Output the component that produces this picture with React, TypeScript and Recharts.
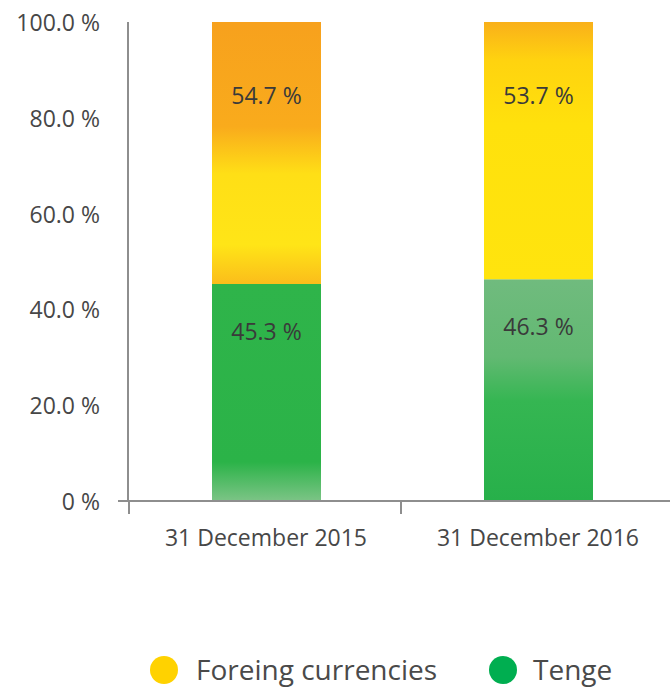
import { BarChart, Bar, XAxis, YAxis, Cell, LabelList } from "recharts";

const categories = ["31 December 2015", "31 December 2016"];
const tenge = [45.3, 46.3];
const foreign = [54.7, 53.7];
const yTicks = [0, 20, 40, 60, 80, 100];

const data = categories.map((date, i) => ({
  date,
  tenge: tenge[i],
  foreign: foreign[i],
}));

const FONT = "'Open Sans', sans-serif";
const AXIS = "#8e8e8e";
const TEXT = "#474747";

const fmt = (v: number) => (v === 0 ? "0 %" : `${v.toFixed(1)} %`);

function YTick(props: any) {
  const { x, y, payload } = props;
  return (
    <g>
      {payload.value === 0 && (
        <line x1={x + 18} x2={x + 28} y1={y} y2={y} stroke={AXIS} strokeWidth={2} />
      )}
      <text
        x={x}
        y={y}
        textAnchor="end"
        dominantBaseline="central"
        fontFamily={FONT}
        fontSize={23}
        fill={TEXT}
      >
        {fmt(payload.value)}
      </text>
    </g>
  );
}

function XTick(props: any) {
  const { x, y, payload, width, visibleTicksCount } = props;
  const half = width && visibleTicksCount ? width / visibleTicksCount / 2 : 137;
  return (
    <g>
      <line x1={x - half} x2={x - half} y1={y - 22} y2={y - 9} stroke={AXIS} strokeWidth={2} />
      <text
        x={x}
        y={y + 14}
        textAnchor="middle"
        dominantBaseline="central"
        fontFamily={FONT}
        fontSize={23}
        fill={TEXT}
      >
        {payload.value}
      </text>
    </g>
  );
}

const barLabel = (dy: number) => (props: any) => {
  const { x, y, width, value } = props;
  return (
    <text
      x={x + width / 2}
      y={y + dy}
      textAnchor="middle"
      dominantBaseline="central"
      fontFamily={FONT}
      fontSize={23}
      fill="#3a3a3a"
    >
      {`${value} %`}
    </text>
  );
};

const legendItems = [
  { name: "Foreing currencies", color: "#ffd200" },
  { name: "Tenge", color: "#00ae50" },
];

export default function App() {
  return (
    <div
      style={{
        position: "absolute",
        left: 0,
        top: 0,
        width: 670,
        height: 690,
        overflow: "hidden",
        background: "#fff",
      }}
    >
      <BarChart
        width={690}
        height={560}
        data={data}
        margin={{ top: 22, right: 14, left: 0, bottom: 9 }}
        barSize={109}
      >
        <defs>
          <linearGradient id="g0" x1="0" y1="0" x2="0" y2="1">
            <stop offset="0%" stopColor="#2fb44a" />
            <stop offset="82%" stopColor="#2bb348" />
            <stop offset="100%" stopColor="#7cc486" />
          </linearGradient>
          <linearGradient id="g1" x1="0" y1="0" x2="0" y2="1">
            <stop offset="0%" stopColor="#70bb7e" />
            <stop offset="35%" stopColor="#62b972" />
            <stop offset="55%" stopColor="#35b652" />
            <stop offset="100%" stopColor="#27b04a" />
          </linearGradient>
          <linearGradient id="y0" x1="0" y1="0" x2="0" y2="1">
            <stop offset="0%" stopColor="#f7a11d" />
            <stop offset="40%" stopColor="#f9ab1c" />
            <stop offset="58%" stopColor="#ffdf16" />
            <stop offset="85%" stopColor="#ffe517" />
            <stop offset="100%" stopColor="#fbbd1b" />
          </linearGradient>
          <linearGradient id="y1" x1="0" y1="0" x2="0" y2="1">
            <stop offset="0%" stopColor="#f9b01a" />
            <stop offset="15%" stopColor="#ffd30f" />
            <stop offset="40%" stopColor="#ffe10c" />
            <stop offset="100%" stopColor="#ffe40e" />
          </linearGradient>
        </defs>
        <XAxis
          dataKey="date"
          height={50}
          padding={{ left: 2, right: 2 }}
          axisLine={{ stroke: AXIS, strokeWidth: 2 }}
          tickLine={false}
          tickSize={0}
          tickMargin={22}
          tick={<XTick />}
          interval={0}
        />
        <YAxis
          width={128}
          domain={[0, 100]}
          ticks={yTicks}
          axisLine={{ stroke: AXIS, strokeWidth: 2 }}
          tickLine={false}
          tickSize={10}
          tickMargin={18}
          tick={<YTick />}
          interval={0}
        />
        <Bar dataKey="tenge" stackId="a" isAnimationActive={false}>
          {data.map((_, i) => (
            <Cell key={i} fill={`url(#g${i})`} />
          ))}
          <LabelList dataKey="tenge" content={barLabel(47)} />
        </Bar>
        <Bar dataKey="foreign" stackId="a" isAnimationActive={false}>
          {data.map((_, i) => (
            <Cell key={i} fill={`url(#y${i})`} />
          ))}
          <LabelList dataKey="foreign" content={barLabel(73)} />
        </Bar>
      </BarChart>
      <div
        style={{
          position: "absolute",
          top: 655,
          left: 0,
          width: 670,
          height: 29,
          fontFamily: FONT,
          fontSize: 28,
          lineHeight: "29px",
          color: "#4a4a4a",
        }}
      >
        {legendItems.map((it, i) => (
          <div
            key={it.name}
            style={{
              position: "absolute",
              left: i === 0 ? 150 : 489,
              top: 0,
              height: 29,
              display: "flex",
              alignItems: "center",
              whiteSpace: "nowrap",
            }}
          >
            <span
              style={{
                display: "inline-block",
                width: 28,
                height: 28,
                borderRadius: "50%",
                background: it.color,
                marginRight: i === 0 ? 18 : 16,
              }}
            />
            <span>{it.name}</span>
          </div>
        ))}
      </div>
    </div>
  );
}
